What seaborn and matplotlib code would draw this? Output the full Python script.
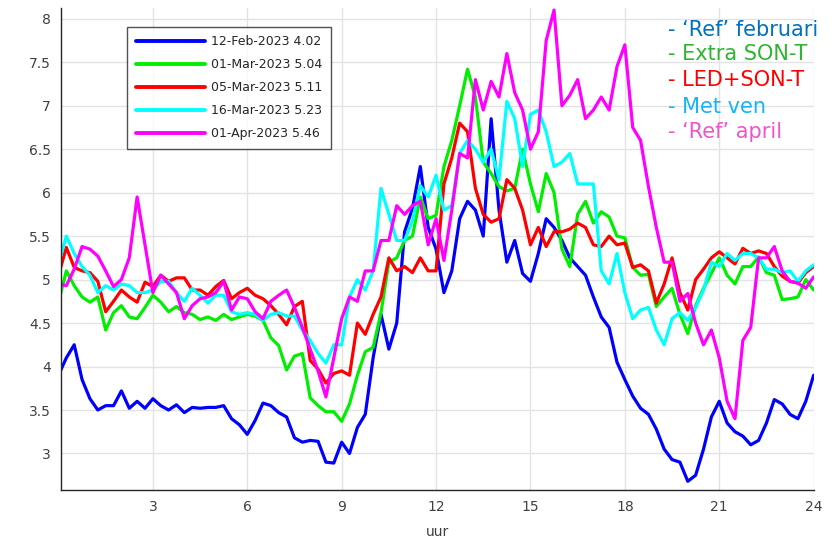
import numpy as np
import pandas as pd
import matplotlib
matplotlib.use("Agg")
import matplotlib.pyplot as plt
import seaborn as sns
from matplotlib.ticker import FuncFormatter

# ---- data (15-minute resolution) ----
hours = np.arange(97) * 0.25

feb12 = [3.9, 4.1, 4.25, 3.85, 3.63, 3.5, 3.55, 3.55, 3.72, 3.52, 3.6, 3.52,
         3.63, 3.55, 3.5, 3.56, 3.47, 3.53, 3.52, 3.53, 3.53, 3.55, 3.4, 3.33,
         3.22, 3.38, 3.58, 3.55, 3.47, 3.42, 3.18, 3.13, 3.15, 3.14, 2.9, 2.89,
         3.13, 3.0, 3.3, 3.45, 4.1, 4.6, 4.2, 4.5, 5.55, 5.82, 6.3, 5.6,
         5.35, 4.85, 5.1, 5.7, 5.9, 5.8, 5.5, 6.85, 5.8, 5.2, 5.45, 5.07,
         4.98, 5.3, 5.7, 5.6, 5.45, 5.25, 5.15, 5.05, 4.8, 4.57, 4.45, 4.05,
         3.85, 3.66, 3.52, 3.45, 3.28, 3.05, 2.93, 2.9, 2.68, 2.75, 3.05, 3.42,
         3.6, 3.35, 3.25, 3.2, 3.1, 3.15, 3.35, 3.62, 3.57, 3.45, 3.4, 3.6, 3.9]

mar01 = [4.74, 5.1, 4.93, 4.8, 4.74, 4.8, 4.42, 4.62, 4.7, 4.57, 4.55, 4.68,
         4.82, 4.74, 4.63, 4.69, 4.62, 4.6, 4.54, 4.57, 4.53, 4.6, 4.54, 4.57,
         4.6, 4.58, 4.53, 4.33, 4.24, 3.96, 4.12, 4.15, 3.64, 3.55, 3.48, 3.48,
         3.37, 3.57, 3.9, 4.17, 4.22, 4.62, 5.2, 5.25, 5.45, 5.5, 5.95, 5.7,
         5.74, 6.3, 6.6, 7.0, 7.42, 7.1, 6.35, 6.22, 6.07, 6.02, 6.05, 6.5,
         6.1, 5.78, 6.22, 6.0, 5.35, 5.15, 5.75, 5.9, 5.65, 5.78, 5.72, 5.5,
         5.48, 5.14, 5.05, 5.06, 4.69, 4.8, 4.9, 4.6, 4.38, 4.7, 4.9, 5.07,
         5.25, 5.05, 4.95, 5.15, 5.15, 5.26, 5.08, 5.05, 4.77, 4.78, 4.8, 5.0, 4.88]

mar05 = [5.05, 5.37, 5.14, 5.1, 5.08, 4.98, 4.63, 4.75, 4.88, 4.8, 4.74, 4.97,
         4.92, 5.05, 4.98, 5.02, 5.02, 4.88, 4.88, 4.82, 4.92, 4.99, 4.78, 4.85,
         4.9, 4.82, 4.78, 4.7, 4.6, 4.48, 4.69, 4.75, 4.07, 3.97, 3.81, 3.92,
         3.95, 3.9, 4.5, 4.37, 4.6, 4.8, 5.25, 5.1, 5.15, 5.08, 5.25, 5.1,
         5.1, 6.1, 6.4, 6.8, 6.7, 6.05, 5.75, 5.66, 5.7, 6.15, 6.05, 5.8,
         5.4, 5.6, 5.38, 5.55, 5.55, 5.58, 5.65, 5.6, 5.4, 5.38, 5.5, 5.4,
         5.42, 5.14, 5.17, 5.1, 4.73, 4.95, 5.25, 4.85, 4.65, 5.0, 5.12, 5.25,
         5.32, 5.25, 5.18, 5.36, 5.3, 5.33, 5.3, 5.15, 5.04, 4.98, 4.96, 5.08, 5.15]

mar16 = [5.18, 5.5, 5.3, 5.15, 5.05, 4.85, 4.93, 4.88, 4.95, 4.93, 4.85, 4.85,
         4.88, 4.98, 4.98, 4.85, 4.75, 4.9, 4.82, 4.73, 4.82, 4.82, 4.63, 4.6,
         4.62, 4.6, 4.53, 4.6, 4.62, 4.58, 4.58, 4.42, 4.3, 4.15, 4.04, 4.25,
         4.25, 4.8, 5.0, 4.88, 5.1, 6.05, 5.75, 5.45, 5.45, 5.68, 6.08, 5.95,
         6.2, 5.8, 5.85, 6.45, 6.6, 6.5, 6.35, 6.5, 6.15, 7.05, 6.85, 6.3,
         6.9, 6.95, 6.7, 6.3, 6.35, 6.45, 6.1, 6.1, 6.1, 5.1, 4.95, 5.3,
         4.85, 4.55, 4.65, 4.68, 4.42, 4.25, 4.55, 4.62, 4.53, 4.68, 4.88, 5.2,
         5.15, 5.3, 5.22, 5.3, 5.3, 5.25, 5.12, 5.12, 5.08, 5.1, 4.98, 5.1, 5.17]

apr01 = [4.95, 4.93, 5.12, 5.38, 5.35, 5.27, 5.1, 4.92, 5.0, 5.25, 5.95, 5.4,
         4.85, 5.05, 4.95, 4.85, 4.55, 4.7, 4.78, 4.8, 4.85, 4.98, 4.65, 4.8,
         4.78, 4.63, 4.55, 4.75, 4.82, 4.88, 4.68, 4.45, 4.2, 3.95, 3.65, 4.1,
         4.55, 4.8, 4.75, 5.1, 5.1, 5.45, 5.45, 5.85, 5.75, 5.85, 5.9, 5.4,
         5.7, 5.22, 5.8, 6.45, 6.4, 7.3, 6.95, 7.28, 7.1, 7.6, 7.15, 6.95,
         6.5, 6.7, 7.75, 8.1, 7.0, 7.12, 7.3, 6.85, 6.95, 7.1, 6.95, 7.45,
         7.7, 6.75, 6.6, 6.07, 5.6, 5.2, 5.2, 4.75, 4.84, 4.5, 4.25, 4.42,
         4.1, 3.6, 3.4, 4.3, 4.45, 5.25, 5.25, 5.38, 5.1, 4.98, 4.96, 4.9, 5.03]

series_labels = ["12-Feb-2023 4.02", "01-Mar-2023 5.04", "05-Mar-2023 5.11",
                 "16-Mar-2023 5.23", "01-Apr-2023 5.46"]
series_values = [feb12, mar01, mar05, mar16, apr01]
line_colors = ["#0000ff", "#00ee00", "#ff0000", "#00ffff", "#ff00ff"]

note_texts = ["- \u2018Ref\u2019 februari", "- Extra SON-T", "- LED+SON-T",
              "- Met ven", "- \u2018Ref\u2019 april"]
note_colors = ["#0070c0", "#2fb52f", "#ff0000", "#14b4f5", "#ee55cc"]

x_ticks = [3, 6, 9, 12, 15, 18, 21, 24]
y_ticks = [3, 3.5, 4, 4.5, 5, 5.5, 6, 6.5, 7, 7.5, 8]

# ---- long-form table ----
df = pd.concat([pd.DataFrame({"uur": hours, "waarde": vals, "reeks": lab})
                for lab, vals in zip(series_labels, series_values)],
               ignore_index=True)

sns.set_style("white")
plt.rcParams["font.family"] = ["DejaVu Sans"]

fig = plt.figure(figsize=(8.37, 5.39), dpi=100)
ax = fig.add_axes([0.0725, 0.0909, 0.8996, 0.8937])

sns.lineplot(data=df, x="uur", y="waarde", hue="reeks", hue_order=series_labels,
             palette=dict(zip(series_labels, line_colors)), linewidth=2.3,
             ax=ax, estimator=None, sort=False)

ax.set_xlim(0.07, 24.0)
ax.set_ylim(2.58, 8.12)
ax.set_xticks(x_ticks)
ax.set_yticks(y_ticks)
ax.yaxis.set_major_formatter(FuncFormatter(lambda v, p: f"{v:g}"))
ax.grid(True, color="#e3e3e3", linewidth=1.0)
ax.set_axisbelow(True)

for s in ["top", "right"]:
    ax.spines[s].set_visible(False)
for s in ["left", "bottom"]:
    ax.spines[s].set_color("#262626")
    ax.spines[s].set_linewidth(1.0)

ax.tick_params(axis="both", direction="in", length=6, width=1.0,
               color="#262626", labelcolor="#404040", labelsize=10, pad=7)
ax.set_xlabel("uur", fontsize=10, color="#404040", labelpad=8)
ax.set_ylabel("")

handles, labels = ax.get_legend_handles_labels()
leg = ax.legend(handles, labels, loc="upper left",
                bbox_to_anchor=(0.0884, 0.9618), borderaxespad=0,
                fontsize=9, handlelength=5.5, handletextpad=0.5,
                labelspacing=0.8, frameon=True, fancybox=False,
                borderpad=0.7)
leg.get_frame().set_edgecolor("#262626")
leg.get_frame().set_linewidth(1.0)
for ln in leg.get_lines():
    ln.set_linewidth(2.8)

note_y = [0.955, 0.905, 0.851, 0.795, 0.743]
for t, c, yy in zip(note_texts, note_colors, note_y):
    ax.text(0.8065, yy, t, transform=ax.transAxes, color=c, fontsize=15,
            ha="left", va="center", clip_on=False)

fig.savefig("out.png", dpi=100)
